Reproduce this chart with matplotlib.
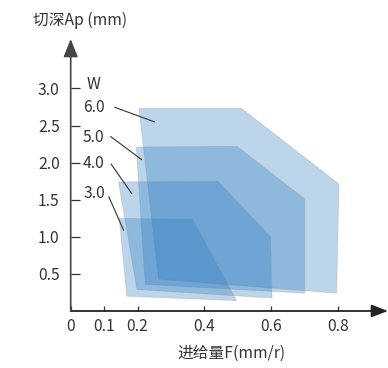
import matplotlib
matplotlib.use("Agg")
import matplotlib.pyplot as plt
from matplotlib.patches import Polygon

plt.rcParams['font.family'] = ['Noto Sans CJK SC', 'DejaVu Sans']

# ---- data ----
widths = ["3.0", "4.0", "5.0", "6.0"]
feed_3 = [0.145, 0.365, 0.496, 0.168]
depth_3 = [1.25, 1.24, 0.14, 0.20]
feed_4 = [0.143, 0.440, 0.598, 0.602, 0.198]
depth_4 = [1.74, 1.75, 1.00, 0.175, 0.29]
feed_5 = [0.196, 0.497, 0.700, 0.700, 0.223]
depth_5 = [2.21, 2.22, 1.51, 0.24, 0.36]
feed_6 = [0.204, 0.511, 0.802, 0.795, 0.263]
depth_6 = [2.73, 2.73, 1.71, 0.24, 0.43]

# label positions and leader lines (data coords)
label_y = [1.585, 1.99, 2.345, 2.74]
leader_start = [(0.114, 1.54), (0.121, 1.98), (0.120, 2.35), (0.132, 2.745)]
leader_end = [(0.158, 1.09), (0.182, 1.585), (0.212, 2.04), (0.25, 2.55)]

xticks = [0, 0.1, 0.2, 0.4, 0.6, 0.8]
xticklabels = ["0", "0.1", "0.2", "0.4", "0.6", "0.8"]
yticks = [0.5, 1.0, 1.5, 2.0, 2.5, 3.0]
yticklabels = ["0.5", "1.0", "1.5", "2.0", "2.5", "3.0"]

W, H = 388, 368
fig = plt.figure(figsize=(W / 100, H / 100), dpi=100)
ax = fig.add_axes([70.7 / W, (H - 311) / H, (W - 70.7) / W, (311 - 39) / H])
ax.set_xlim(0, 0.9486)
ax.set_ylim(0, 3.666)
for s in ax.spines.values():
    s.set_visible(False)
ax.patch.set_alpha(0)

fill = '#2a7ac0'
polys = [(feed_6, depth_6), (feed_5, depth_5), (feed_4, depth_4), (feed_3, depth_3)]
for fx, fy in polys:
    p = Polygon(list(zip(fx, fy)), closed=True, facecolor=fill, alpha=0.31,
                edgecolor='#999999', linewidth=0.7, zorder=2)
    ax.add_patch(p)

txt = '#333333'
fs = 11.3
# axis arrows
ax.annotate('', xy=(1, 0), xytext=(0, 0), xycoords='axes fraction',
            arrowprops=dict(arrowstyle='-|>,head_length=1.0,head_width=0.38',
                            mutation_scale=10, color='#222222', lw=1.3,
                            shrinkA=0, shrinkB=0), zorder=5)
ax.annotate('', xy=(0, 1), xytext=(0, 0), xycoords='axes fraction',
            arrowprops=dict(arrowstyle='-|>,head_length=1.1,head_width=0.44',
                            mutation_scale=10, color='#444444', lw=1.2,
                            shrinkA=0, shrinkB=0), zorder=5)

ax.set_xticks(xticks)
ax.set_xticklabels(xticklabels)
ax.set_yticks(yticks)
ax.set_yticklabels(yticklabels)
ax.tick_params(axis='x', direction='in', length=3.6, width=0.9, color='#333333',
               pad=5, labelsize=fs, labelcolor=txt)
ax.tick_params(axis='y', direction='in', length=6.5, width=0.9, color='#333333',
               pad=8, labelsize=fs, labelcolor=txt)

# W label and widths
ax.text(0.049, 3.05, 'W', fontsize=fs, color=txt, ha='left', va='center')
for lab, ly, (x0, y0), (x1, y1) in zip(widths, label_y, leader_start, leader_end):
    ax.text(0.037, ly, lab, fontsize=fs, color=txt, ha='left', va='center')
    ax.plot([x0, x1], [y0, y1], color='#333333', lw=0.8, zorder=4)

fig.text(80.5 / W, 1 - 20 / H, '切深Ap (mm)', fontsize=fs, color=txt,
         ha='center', va='center')
fig.text(231.5 / W, 1 - 353 / H, '进给量F(mm/r)', fontsize=fs, color=txt,
         ha='center', va='center')

fig.savefig('out.png', dpi=100)
